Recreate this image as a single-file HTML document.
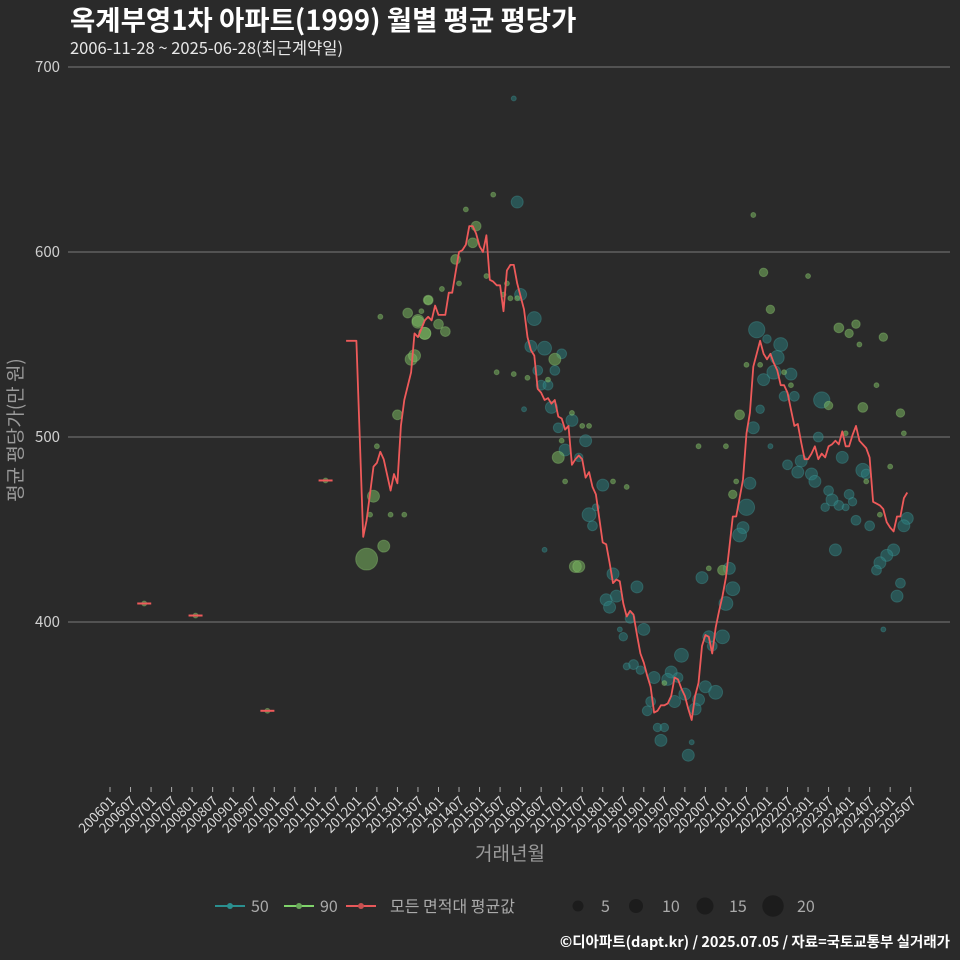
<!DOCTYPE html>
<html><head><meta charset="utf-8">
<style>
html,body{margin:0;padding:0;background:#2a2a2a;}
svg{display:block;font-family:"Noto Sans CJK KR","Liberation Sans",sans-serif;}
</style></head>
<body>
<svg id="chart" width="960" height="960" viewBox="0 0 960 960" xmlns="http://www.w3.org/2000/svg">
<rect x="0" y="0" width="960" height="960" fill="#2a2a2a"/>
<text x="70" y="30" fill="#ffffff" font-size="27.5" font-weight="bold">옥계부영1차 아파트(1999) 월별 평균 평당가</text>
<text x="70" y="54" fill="#e8e8e8" font-size="16.5">2006-11-28 ~ 2025-06-28(최근계약일)</text>
<g id="grid"></g>
<g id="bubbles"></g>
<g id="line"></g>
<g id="xaxis"></g>
<text x="510" y="860" fill="#9a9a9a" font-size="19" text-anchor="middle">거래년월</text>
<text transform="translate(22,430) rotate(-90)" fill="#9a9a9a" font-size="19" text-anchor="middle">평균 평당가(만 원)</text>
<g>
  <g>
    <line x1="215" y1="906" x2="245" y2="906" stroke="#2a8f8f" stroke-width="2"/>
    <circle cx="230" cy="906" r="3" fill="#2a8f8f"/>
    <text x="251" y="912" fill="#aaaaaa" font-size="16">50</text>
  </g>
  <g>
    <line x1="284" y1="906" x2="314" y2="906" stroke="#7fd36a" stroke-width="2"/>
    <circle cx="299" cy="906" r="3" fill="#6aa85a"/>
    <text x="320" y="912" fill="#aaaaaa" font-size="16">90</text>
  </g>
  <g>
    <line x1="346" y1="906" x2="376" y2="906" stroke="#e8585a" stroke-width="2"/>
    <circle cx="361" cy="906" r="3" fill="#c85050"/>
    <text x="390" y="912" fill="#aaaaaa" font-size="16">모든 면적대 평균값</text>
  </g>
  <g>
    <circle cx="578" cy="906" r="5.5" fill="#1c1c1c"/><text x="601" y="912" fill="#aaaaaa" font-size="16">5</text>
    <circle cx="636" cy="906" r="7" fill="#1c1c1c"/><text x="662" y="912" fill="#aaaaaa" font-size="16">10</text>
    <circle cx="705" cy="906" r="8.5" fill="#1c1c1c"/><text x="729" y="912" fill="#aaaaaa" font-size="16">15</text>
    <circle cx="773" cy="906" r="10.7" fill="#1c1c1c"/><text x="797" y="912" fill="#aaaaaa" font-size="16">20</text>
  </g>
</g>
<text x="950" y="947" fill="#ffffff" font-size="14.5" font-weight="bold" text-anchor="end">©디아파트(dapt.kr) / 2025.07.05 / 자료=국토교통부 실거래가</text>
</svg>
<script>
// y ticks
const yTicks = [400, 500, 600, 700];
// average line: month offsets from 2006-01 and values
const lineMonth = [69,72,74,75,77,78,79,80,82,83,84,85,86,88,89,90,92,93,94,95,96,98,99,100,102,103,104,105,106,107,108,109,110,111,112,113,114,115,116,117,118,119,121,122,123,124,125,126,127,128,129,130,131,132,133,134,135,136,137,138,139,140,141,142,143,144,145,146,147,148,149,150,151,152,153,154,155,156,157,158,159,160,161,162,163,164,165,166,167,168,169,170,171,172,173,174,175,176,177,178,179,180,181,182,183,184,185,186,187,188,189,190,191,192,193,194,195,196,197,198,199,200,201,202,203,204,205,206,207,208,209,210,211,212,213,214,215,216,217,218,219,220,221,222,223,224,225,226,227,228,229,230,231,232,233];
const lineVal = [552,552,446,455,484,486,492,488,471,480,475,506,520,535,556,554,563,565,563,571,566,566,578,578,600,601,604,614,614,610,603,600,609,585,584,582,582,568,590,593,593,583,569,554,547,544,526,524,520,521,518,520,511,510,504,506,485,488,490,488,478,481,473,469,456,443,442,432,421,423,422,410,403,406,404,393,383,378,371,365,351,352,355,355,356,360,370,369,364,360,353,347,360,367,387,393,392,383,397,406,414,424,440,457,457,467,477,502,513,538,545,552,545,542,545,540,536,528,528,524,515,506,507,497,488,488,491,495,488,491,489,495,496,498,496,503,495,495,501,506,498,496,494,489,465,464,463,461,454,451,449,457,457,467,470];
// isolated single-month averages
const soloMonth = [10, 25, 46, 63];
const soloVal = [410, 403.5, 352, 476.5];
// bubbles: type 50 (teal) / 90 (green)
const b90Month = [75,77,80,78,76,82,86,79,84,88,89,87,90,92,93,96,98,97,101,102,104,107,106,93,90,92,91,110,113,118,122,116,117,119,115,130,128,135,132,131,133,136,138,140,147,151,137,184,180,183,182,175,179,162,213,216,218,226,219,186,197,199,210,220,231,224,232,215,228,221,225,188,191,193,190,204,172,112,10,25,46,63];
const b90Val = [434,468,441,495,458,458,458,565,512,542,544,567,563,556,574,561,557,580,596,583,623,614,605,574,562,556,568,587,535,534,532,583,575,575,577,542,531,513,498,489,476,430,506,506,476,473,430,512,495,476,469,429,428,367,559,556,561,554,550,539,535,528,517,516,513,528,502,502,484,476,458,620,589,569,539,587,495,631,410,403.5,352,476.5];
const b90Count = [20,6,6,1,1,1,1,1,4,6,6,4,6,6,4,4,4,1,4,1,1,4,4,3,6,6,1,1,1,1,1,1,1,1,1,6,1,1,1,6,1,6,1,1,1,1,6,4,1,1,3,1,4,1,4,3,3,3,1,1,1,1,3,4,3,1,1,1,1,1,1,1,3,3,1,1,1,1,1,1,1,1];
const b50Month = [118,119,120,124,123,127,132,130,125,126,128,129,131,135,133,139,137,144,142,140,141,147,154,145,148,146,152,156,149,150,167,153,151,155,164,166,163,159,174,168,177,172,165,158,171,157,160,162,161,170,169,173,181,182,180,179,175,176,187,186,185,184,188,190,193,189,192,196,195,194,191,199,197,200,208,207,198,202,214,201,205,206,220,221,210,216,211,217,213,209,215,218,222,233,232,212,229,227,225,224,231,230,226,127,121];
const b50Val = [683,627,577,564,549,548,545,536,536,528,528,516,505,509,493,498,489,474,462,458,452,426,419,412,414,408,402,396,396,392,382,377,376,374,373,370,369,370,365,361,362,358,357,357,353,352,343,343,336,335,328,424,429,418,410,392,392,387,475,462,451,447,505,515,495,558,553,550,543,535,531,534,522,522,520,500,485,487,489,481,480,476,482,480,471,469,466,465,463,462,462,455,452,456,452,439,439,436,432,428,421,414,396,439,515];
const b50Count = [1,6,6,8,6,8,4,4,4,4,4,6,4,6,6,6,3,6,2,8,4,6,6,6,6,6,4,6,1,3,8,4,2,3,6,4,6,6,6,6,8,6,6,4,6,4,3,3,6,1,6,6,6,8,8,8,6,4,6,11,6,8,6,3,1,11,3,8,8,8,6,6,4,4,11,4,4,6,6,6,6,6,8,4,4,4,6,3,4,3,2,4,4,6,6,6,6,6,6,4,4,6,1,1,1];

const NS = "http://www.w3.org/2000/svg";
const X0 = 110, PXM = 800.7 / 234;
const xs = m => X0 + m * PXM;
const ys = v => 622 - (v - 400) * 1.85;
const rs = n => 2.45 * Math.sqrt(n);
function mk(tag, attrs, parent) {
  const e = document.createElementNS(NS, tag);
  for (const k in attrs) e.setAttribute(k, attrs[k]);
  parent.appendChild(e);
  return e;
}
const grid = document.getElementById('grid');
yTicks.forEach(t => {
  const l = mk('line', {x1: 68, x2: 950, y1: ys(t), y2: ys(t), stroke: '#6a6a6a', 'stroke-width': 1.2}, grid);
  
  
  const tx = mk('text', {x: 60, y: ys(t) + 5, fill: '#d0d0d0', 'font-size': 15, 'text-anchor': 'end'}, grid);
  tx.textContent = t;
  
  
});
const xa = document.getElementById('xaxis');
for (let i = 0; i <= 39; i++) {
  const m = i * 6;
  const yr = 2006 + Math.floor(m / 12), mo = (m % 12) + 1;
  const lab = yr + (mo < 10 ? '0' : '') + mo;
  const x = xs(m);
  const tk = mk('line', {x1: x, x2: x, y1: 787, y2: 792, stroke: '#aaaaaa', 'stroke-width': 1}, xa);
  
  
  const tx = mk('text', {transform: `translate(${x + 6},${802}) rotate(-45)`, fill: '#d8d8d8', 'font-size': 13.5, 'text-anchor': 'end'}, xa);
  tx.textContent = lab;
  
  
}
const bg = document.getElementById('bubbles');
b50Month.forEach((m, i) => {
  const c = mk('circle', {cx: xs(m), cy: ys(b50Val[i]), r: rs(b50Count[i]), fill: 'rgba(42,128,128,0.5)', stroke: 'rgba(70,160,160,0.35)', 'stroke-width': 1}, bg);
  
  
});
b90Month.forEach((m, i) => {
  const c = mk('circle', {cx: xs(m), cy: ys(b90Val[i]), r: rs(b90Count[i]), fill: 'rgba(120,180,95,0.55)', stroke: 'rgba(150,210,120,0.35)', 'stroke-width': 1}, bg);
  
  
});
const lg = document.getElementById('line');
const pts = lineMonth.map((m, i) => xs(m).toFixed(1) + ',' + ys(lineVal[i]).toFixed(1)).join(' ');
const pl = mk('polyline', {points: pts, fill: 'none', stroke: '#ee5a5a', 'stroke-width': 1.8, 'stroke-linejoin': 'round'}, lg);


soloMonth.forEach((m, i) => {
  const d = mk('line', {x1: xs(m) - 7, x2: xs(m) + 7, y1: ys(soloVal[i]), y2: ys(soloVal[i]), stroke: '#ee5a5a', 'stroke-width': 2}, lg);
  
  
});
</script>
</body></html>
